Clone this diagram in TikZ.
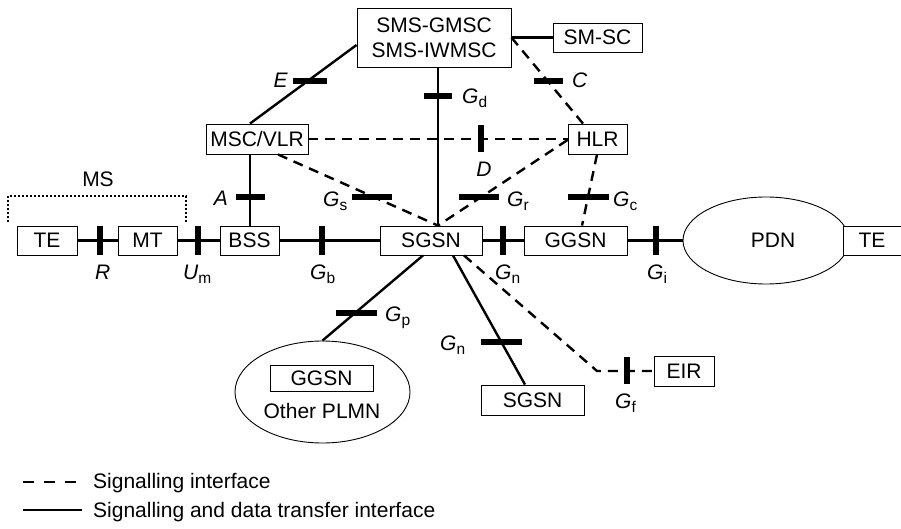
\documentclass[tikz,border=0pt]{standalone}
\usepackage{fontspec}
\setmainfont{Liberation Sans}
\usetikzlibrary{shapes.geometric}
% interface name with an upright, lowered subscript
\newcommand\ifc[2]{\textit{#1}\raisebox{-4pt}{\fontsize{15.5}{16}\selectfont #2}}

\begin{document}
\begin{tikzpicture}[x=1pt,y=-1pt,
  font=\fontsize{21}{25}\selectfont,
  box/.style={draw, line width=0.9pt, inner sep=0pt, fill=white, align=center},
  cloud/.style={ellipse, draw, line width=0.9pt, inner sep=0pt},
  link/.style={line width=2.4pt},
  sig/.style={line width=2.4pt, dash pattern=on 10pt off 7pt},
  hbar/.style={fill=black, inner sep=0pt, minimum height=5.5pt},
  vbar/.style={fill=black, inner sep=0pt, minimum width=5.5pt},
  lbl/.style={inner sep=0pt}]
\useasboundingbox (0,0) rectangle (901,529);

% network elements
\node[box, minimum width=154pt, minimum height=59pt] (gmsc) at (434,37.5) {SMS-GMSC\\SMS-IWMSC};
\node[box, minimum width=89pt, minimum height=29pt] (smsc) at (597.5,37.5) {SM-SC};
\node[box, minimum width=102pt, minimum height=30pt] (msc) at (257,139) {MSC/VLR};
\node[box, minimum width=59pt, minimum height=30pt] (hlr) at (597.5,139) {HLR};
\node[box, minimum width=60pt, minimum height=29pt] (te1) at (47,240.5) {TE};
\node[box, minimum width=59pt, minimum height=29pt] (mt) at (147.5,240.5) {MT};
\node[box, minimum width=59pt, minimum height=29pt] (bss) at (249.5,240.5) {BSS};
\node[box, minimum width=102pt, minimum height=29pt] (sgsn) at (431,240.5) {SGSN};
\node[box, minimum width=103pt, minimum height=29pt] (ggsn) at (575.5,240.5) {GGSN};
\node[cloud, minimum width=166pt, minimum height=87pt] (pdn) at (766,240.5) {};
\node[lbl] (pdntxt) at (773,240.5) {PDN};
\node[box, minimum width=58pt, minimum height=29pt] (te2) at (872,240.5) {TE};
\node[cloud, minimum width=175pt, minimum height=102pt] (plmn) at (322.5,392) {};
\node[box, minimum width=103pt, minimum height=26pt] (ggsn2) at (321.5,378) {GGSN};
\node[lbl, anchor=base] (plmntxt) at (322,418) {Other PLMN};
\node[box, minimum width=103pt, minimum height=30pt] (sgsn2) at (532.5,400) {SGSN};
\node[box, minimum width=60pt, minimum height=30pt] (eir) at (684,371) {EIR};

% mobile station bracket
\draw[line width=2pt, dash pattern=on 2pt off 2pt] (8,222) -- (8,196) -- (186,196) -- (186,222);
\node[lbl, anchor=base] (ms) at (98,187) {MS};

% signalling and data transfer links
\coordinate (hub) at ([xshift=7pt]sgsn.north);
\draw[link] (gmsc.east) -- (smsc.west);
\draw[link] ([xshift=-7pt]msc.north) -- ([yshift=-7.5pt]gmsc.west);
\draw[link] ([xshift=4pt]gmsc.south) -- (hub);
\draw[link] ([xshift=-7pt]msc.south) -- ([xshift=0.5pt]bss.north);
\draw[link] (te1.east) -- (mt.west);
\draw[link] (mt.east) -- (bss.west);
\draw[link] (bss.east) -- (sgsn.west);
\draw[link] (sgsn.east) -- (ggsn.west);
\draw[link] (ggsn.east) -- (pdn.west);
\draw[link] ([xshift=-8pt]sgsn.south) -- (plmn.north);
\draw[link] ([xshift=22pt]sgsn.south) -- ([xshift=-7.5pt]sgsn2.north);

% signalling-only links
\coordinate (gfbend) at (597,371);
\draw[sig] (gmsc.east) -- ([xshift=-14.5pt]hlr.north);
\draw[sig] (msc.east) -- (hlr.west);
\draw[sig] ([xshift=21pt]msc.south) -- (hub);
\draw[sig] ([yshift=-1pt]hlr.west) -- (hub);
\draw[sig] ([xshift=-0.5pt]hlr.south) -- ([xshift=6.5pt]ggsn.north);
\draw[sig] ([xshift=33pt]sgsn.south) -- (gfbend) -- (eir.west);

% interface reference points
\node[hbar, minimum width=34pt] (barE) at (310,81) {};
\node[hbar, minimum width=28pt] (barGd) at (438,96) {};
\node[hbar, minimum width=29pt] (barC) at (548.5,81) {};
\node[vbar, minimum height=27pt] (barD) at (481,138.5) {};
\node[hbar, minimum width=29pt] (barA) at (250,197) {};
\node[hbar, minimum width=40pt] (barGs) at (372,197) {};
\node[hbar, minimum width=40pt] (barGr) at (479,197) {};
\node[hbar, minimum width=41pt] (barGc) at (588.5,197) {};
\node[vbar, minimum height=28pt] (barR) at (100,240.5) {};
\node[vbar, minimum height=28pt] (barUm) at (198,240.5) {};
\node[vbar, minimum height=28pt] (barGb) at (322,240.5) {};
\node[vbar, minimum height=28pt] (barGn) at (503,240.5) {};
\node[vbar, minimum height=28pt] (barGi) at (656,240.5) {};
\node[hbar, minimum width=41pt] (barGp) at (356.5,313) {};
\node[hbar, minimum width=41pt] (barGn2) at (501.5,342) {};
\node[vbar, minimum height=27pt] (barGf) at (627,370.5) {};

% interface names
\node[lbl, anchor=base east] (lE) at (288,88) {\textit{E}};
\node[lbl, anchor=base west] (lGd) at (462,104) {\ifc{G}{d}};
\node[lbl, anchor=base west] (lC) at (572,88) {\textit{C}};
\node[lbl, anchor=base] (lD) at (484,177) {\textit{D}};
\node[lbl, anchor=base east] (lA) at (228,206) {\textit{A}};
\node[lbl, anchor=base west] (lGs) at (323,207) {\ifc{G}{s}};
\node[lbl, anchor=base west] (lGr) at (507,207) {\ifc{G}{r}};
\node[lbl, anchor=base west] (lGc) at (613,207) {\ifc{G}{c}};
\node[lbl, anchor=base west] (lR) at (95,279) {\textit{R}};
\node[lbl, anchor=base west] (lUm) at (183,279) {\ifc{U}{m}};
\node[lbl, anchor=base west] (lGb) at (310,279) {\ifc{G}{b}};
\node[lbl, anchor=base west] (lGn) at (495,279) {\ifc{G}{n}};
\node[lbl, anchor=base west] (lGi) at (647,279) {\ifc{G}{i}};
\node[lbl, anchor=base west] (lGp) at (385,321) {\ifc{G}{p}};
\node[lbl, anchor=base west] (lGn2) at (440,350) {\ifc{G}{n}};
\node[lbl, anchor=base west] (lGf) at (615,408) {\ifc{G}{f}};

% legend
\coordinate (k1a) at (23,482);
\coordinate (k1b) at (76,482);
\coordinate (k2a) at (23,510);
\coordinate (k2b) at (82,510);
\draw[line width=2.4pt, dash pattern=on 11pt off 10pt] (k1a) -- (k1b);
\draw[link] (k2a) -- (k2b);
\node[lbl, anchor=base west] (k1) at (93,488) {Signalling interface};
\node[lbl, anchor=base west] (k2) at (93,517) {Signalling and data transfer interface};
\end{tikzpicture}
\end{document}
